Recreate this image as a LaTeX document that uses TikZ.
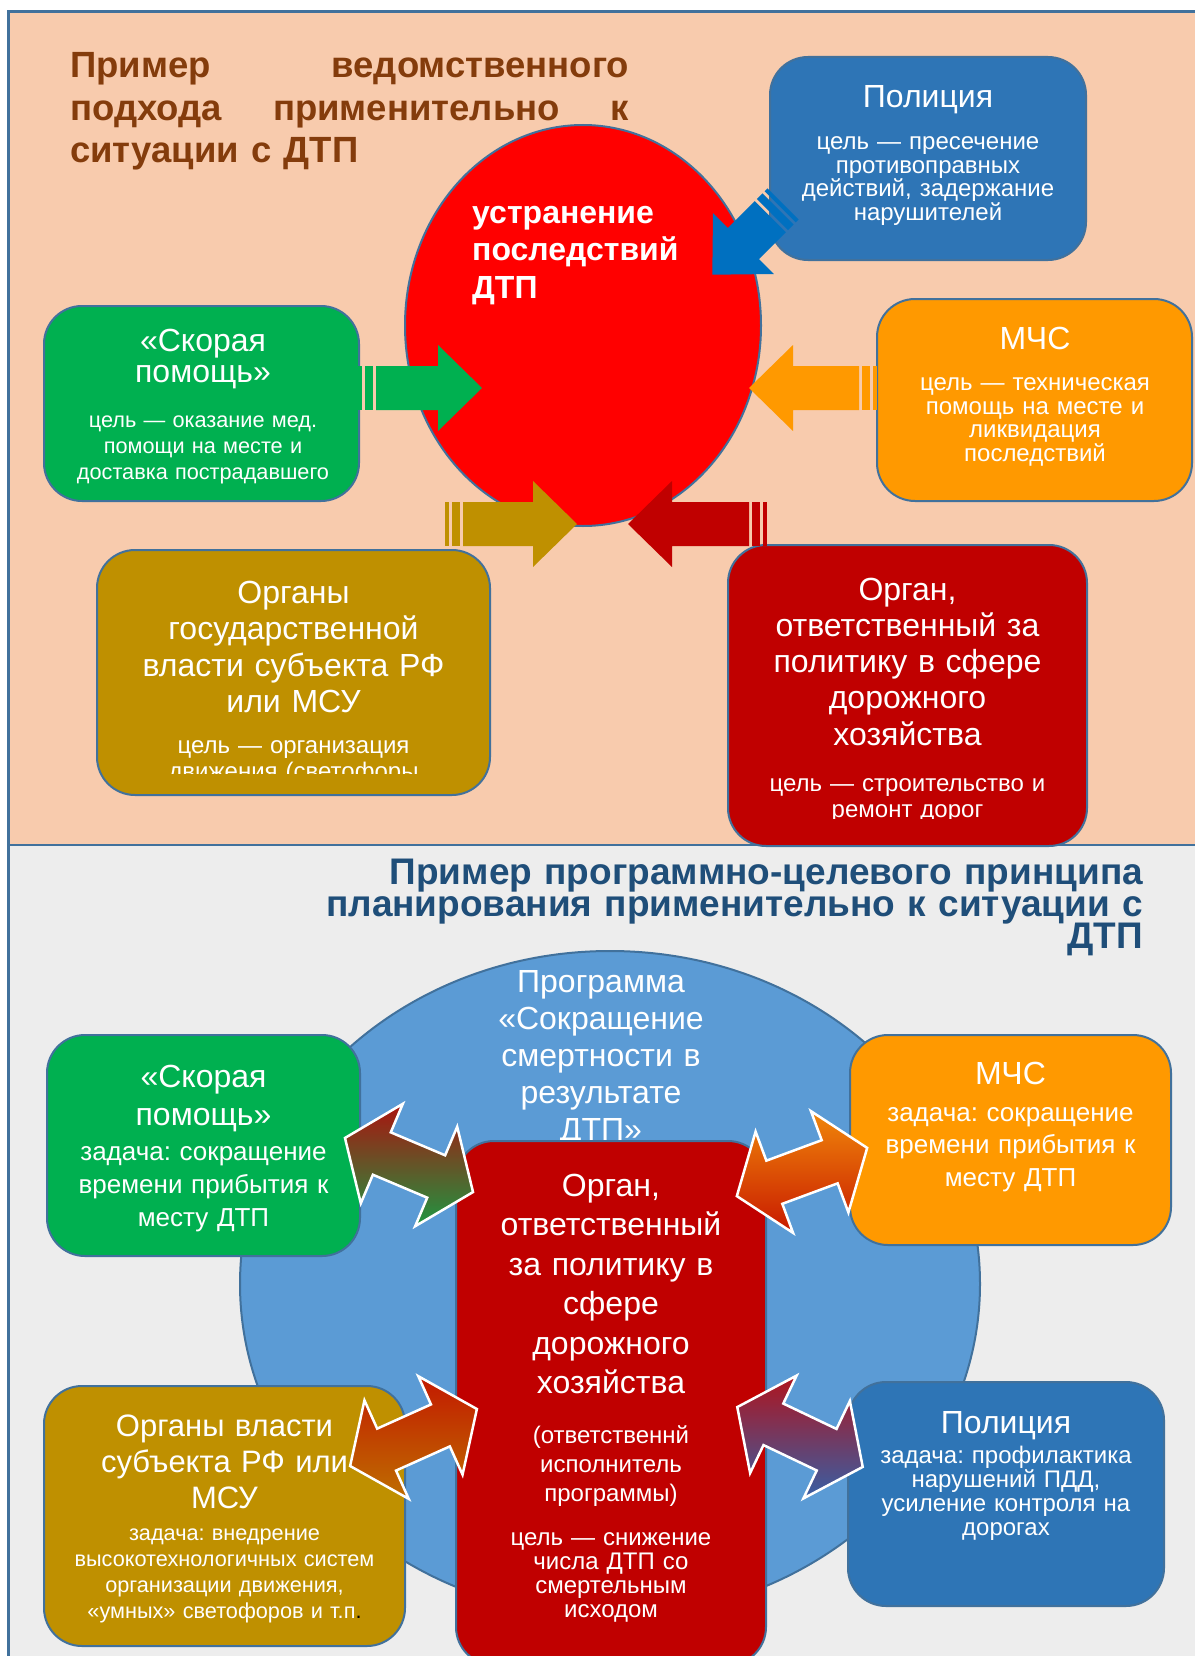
\documentclass[tikz,border=0pt]{standalone}
\usepackage{fontspec}
\setmainfont{Liberation Sans}
\usetikzlibrary{shapes.geometric}
\definecolor{peach}{HTML}{F8CBAD}
\definecolor{panelgray}{HTML}{EDEDED}
\definecolor{frameblue}{HTML}{41719C}
\definecolor{titlebrown}{HTML}{843C0C}
\definecolor{titleblue}{HTML}{1F4E79}
\definecolor{polblue}{HTML}{2E75B6}
\definecolor{arrblue}{HTML}{0070C0}
\definecolor{mchsorange}{HTML}{FF9900}
\definecolor{ambgreen}{HTML}{00B050}
\definecolor{govgold}{HTML}{BF9000}
\definecolor{roadred}{HTML}{C00000}
\definecolor{progblue}{HTML}{5B9BD5}
\definecolor{elimred}{HTML}{FF0000}
\definecolor{aonetop}{RGB}{170,20,15}
\definecolor{aonebot}{RGB}{30,150,65}
\definecolor{atwotop}{RGB}{240,135,10}
\definecolor{atwobot}{RGB}{200,25,0}
\definecolor{athreetop}{RGB}{195,25,0}
\definecolor{athreebot}{RGB}{190,110,0}
\definecolor{afourtop}{RGB}{175,20,30}
\definecolor{afourbot}{RGB}{55,95,165}
\frenchspacing
\newcommand{\fsz}[2]{\fontsize{#1}{#2}\selectfont\frenchspacing\lineskiplimit=-30pt\lineskip=0pt}
% block arrow with two bars at its tail
\newcommand{\stripedarrow}[4]{%
\begin{scope}[shift={#1}, rotate=#2]
\fill[#4] (0,-22) rectangle (4,22);
\fill[#4] (7,-22) rectangle (15,22);
\fill[#4] (18,-22) -- (#3-44,-22) -- (#3-44,-43) -- (#3,0) -- (#3-44,43) -- (#3-44,22) -- (18,22) -- cycle;
\end{scope}}
% double headed block arrow, shaded top to bottom
\newcommand{\twinarrow}[5]{%
\begin{scope}[shift={#2}, rotate=#3]
\coordinate (#1-1) at (-69.5,0);
\coordinate (#1-2) at (-29.5,-54);
\coordinate (#1-3) at (-29.5,-23);
\coordinate (#1-4) at (29.5,-23);
\coordinate (#1-5) at (29.5,-54);
\coordinate (#1-6) at (69.5,0);
\coordinate (#1-7) at (29.5,54);
\coordinate (#1-8) at (29.5,23);
\coordinate (#1-9) at (-29.5,23);
\coordinate (#1-10) at (-29.5,54);
\end{scope}
\draw[twin, top color=#4, bottom color=#5] (#1-1) -- (#1-2) -- (#1-3) -- (#1-4) -- (#1-5) -- (#1-6) -- (#1-7) -- (#1-8) -- (#1-9) -- (#1-10) -- cycle;}

\begin{document}
\begin{tikzpicture}
    [x=1pt, y=-1pt,
 box/.style ={rectangle, rounded corners=38pt, draw=frameblue, line width=2pt, inner sep=0pt},
 oval/.style ={ellipse, draw=frameblue, line width=2pt, inner sep=0pt},
 ttl/.style ={text=white, align=center, inner sep=0pt, anchor=base},
 twin/.style ={draw=white, line width=2.5pt, line join=miter}]
    \clip (0,0) rectangle (1195,1656);
    \fill[white] (0,0) rectangle (1195,1656);
    \fill[peach] (8,12) rectangle (1195,845);
    \fill[panelgray] (8,845) rectangle (1195,1656);
    \draw[frameblue, line width=3pt] (8,1656) -- (8,12) -- (1195,12);
    \draw[frameblue, line width=2.5pt] (8,845) -- (1195,845);

    % upper panel
    \node[text=titlebrown, align=left, text width=559pt, inner sep=0pt, anchor=base west,
      font=\fsz{36.5}{42.5}\bfseries] (title1) at (70,78)
      {Пример\hfill ведомственного\\подхода\hfill применительно\hfill к\\ситуации с ДТП};
    \node[oval, fill=elimred, minimum width=356pt, minimum height=401pt] (elim) at (583,325.5) {};
    \node[ttl, align=left, text width=260pt, anchor=base west, font=\fsz{32}{37.5}\bfseries] (elim-t) at (472,223)
      {устранение\\последствий\\ДТП};

    \node[box, fill=polblue, minimum width=316pt, minimum height=203pt] (pol1) at (928,158.5) {};
    \node[ttl, text width=300pt, font=\fsz{32}{38}] (pol1-t) at (928,108) {Полиция};
    \node[ttl, text width=300pt, font=\fsz{24}{23.5}] (pol1-s) at (928,150) {цель — пресечение\\противоправных\\действий, задержание\\нарушителей};

    \node[box, fill=mchsorange, minimum width=315pt, minimum height=202pt] (mchs1) at (1034.5,400) {};
    \node[ttl, text width=300pt, font=\fsz{32}{38}] (mchs1-t) at (1035,349) {МЧС};
    \node[ttl, text width=300pt, font=\fsz{24}{23.5}] (mchs1-s) at (1035,390.5) {цель — техническая\\помощь на месте и\\ликвидация\\последствий};

    \node[box, fill=ambgreen, minimum width=315pt, minimum height=195pt] (amb1) at (201.5,403.5) {};
    \node[ttl, text width=300pt, font=\fsz{32}{31}] (amb1-t) at (203,351) {«Скорая\\помощь»};
    \node[ttl, text width=300pt, font=\fsz{21.7}{26}] (amb1-s) at (203,427) {цель — оказание мед.\\помощи на месте и\\доставка пострадавшего};

    \node[box, fill=govgold, minimum width=393pt, minimum height=245pt] (gov1) at (293.5,672.5) {};
    \node[ttl, text width=380pt, font=\fsz{32}{36.5}] (gov1-t) at (293.5,603) {Органы\\государственной\\власти субъекта РФ\\или МСУ};
    \begin{scope}
      \clip (97,550) rectangle (490,773);
      \node[ttl, text width=380pt, font=\fsz{24}{26}] (gov1-s) at (293.5,753) {цель — организация\\движения (светофоры};
    \end{scope}

    \node[box, fill=roadred, minimum width=359pt, minimum height=301pt] (road1) at (907.5,695.5) {};
    \node[ttl, text width=350pt, font=\fsz{32}{36.3}] (road1-t) at (907.5,600) {Орган,\\ответственный за\\политику в сфере\\дорожного\\хозяйства};
    \begin{scope}
      \clip (728,545) rectangle (1087,818);
      \node[ttl, text width=350pt, font=\fsz{24}{26}] (road1-s) at (907.5,791) {цель — строительство и\\ремонт дорог};
    \end{scope}

    \stripedarrow{(358,388)}{0}{124}{ambgreen}
    \stripedarrow{(877,388)}{180}{128}{mchsorange}
    \stripedarrow{(445,524)}{0}{132}{govgold}
    \stripedarrow{(767,524)}{180}{139}{roadred}
    \stripedarrow{(783,204)}{225}{100}{arrblue}

    % lower panel
    \node[text=titleblue, align=right, text width=830pt, inner sep=0pt, anchor=base east,
      font=\fsz{37}{32}\bfseries] (title2) at (1143,884)
      {Пример программно-целевого принципа\\планирования применительно к ситуации с\\ДТП};
    \node[oval, fill=progblue, minimum width=740pt, minimum height=666pt] (prog) at (610,1284) {};
    \node[ttl, text width=300pt, font=\fsz{32}{37}] (prog-t) at (601,992) {Программа\\«Сокращение\\смертности в\\результате\\ДТП»};

    \node[box, fill=roadred, minimum width=310pt, minimum height=524pt] (road2) at (611,1403) {};
    \node[ttl, text width=300pt, font=\fsz{32}{39.5}] (road2-t) at (611,1196) {Орган,\\ответственный\\за политику в\\сфере\\дорожного\\хозяйства};
    \node[ttl, text width=300pt, font=\fsz{24}{29}] (road2-p) at (611,1443.5) {(ответственнй\\исполнитель\\программы)};
    \node[ttl, text width=300pt, font=\fsz{24}{24}] (road2-s) at (611,1545) {цель — снижение\\числа ДТП со\\смертельным\\исходом};

    \node[box, fill=ambgreen, minimum width=313pt, minimum height=221pt] (amb2) at (203.5,1145.5) {};
    \node[ttl, text width=300pt, font=\fsz{32}{38}] (amb2-t) at (203.5,1087) {«Скорая\\помощь»};
    \node[ttl, text width=300pt, font=\fsz{26}{33}] (amb2-s) at (203.5,1160) {задача: сокращение\\времени прибытия к\\месту ДТП};

    \node[box, fill=mchsorange, minimum width=321pt, minimum height=210pt] (mchs2) at (1010.5,1140) {};
    \node[ttl, text width=310pt, font=\fsz{32}{38}] (mchs2-t) at (1010.5,1084.5) {МЧС};
    \node[ttl, text width=310pt, font=\fsz{26}{32.5}] (mchs2-s) at (1010.5,1121) {задача: сокращение\\времени прибытия к\\месту ДТП};

    \node[box, fill=govgold, minimum width=361pt, minimum height=260pt] (gov2) at (224.5,1516) {};
    \node[ttl, text width=350pt, font=\fsz{31}{36}] (gov2-t) at (224.5,1436) {Органы власти\\субъекта РФ или\\МСУ};
    \node[ttl, text width=350pt, font=\fsz{21.7}{26}] (gov2-s) at (224.5,1540) {задача: внедрение\\высокотехнологичных систем\\организации движения,\\«умных» светофоров и т.п\textcolor{black}{.}};

    \node[box, fill=polblue, minimum width=316pt, minimum height=224pt] (pol2) at (1006,1494) {};
    \node[ttl, text width=310pt, font=\fsz{32}{38}] (pol2-t) at (1006,1433) {Полиция};
    \node[ttl, text width=310pt, font=\fsz{24}{24}] (pol2-s) at (1006,1463) {задача: профилактика\\нарушений ПДД,\\усиление контроля на\\дорогах};

    \twinarrow{aone}{(409,1165)}{-22.9}{aonetop}{aonebot}
    \twinarrow{atwo}{(802,1172)}{20.3}{atwotop}{atwobot}
    \twinarrow{athree}{(413.5,1437.5)}{24.2}{athreetop}{athreebot}
    \twinarrow{afour}{(800,1437)}{-25.5}{afourtop}{afourbot}
\end{tikzpicture}
\end{document}
